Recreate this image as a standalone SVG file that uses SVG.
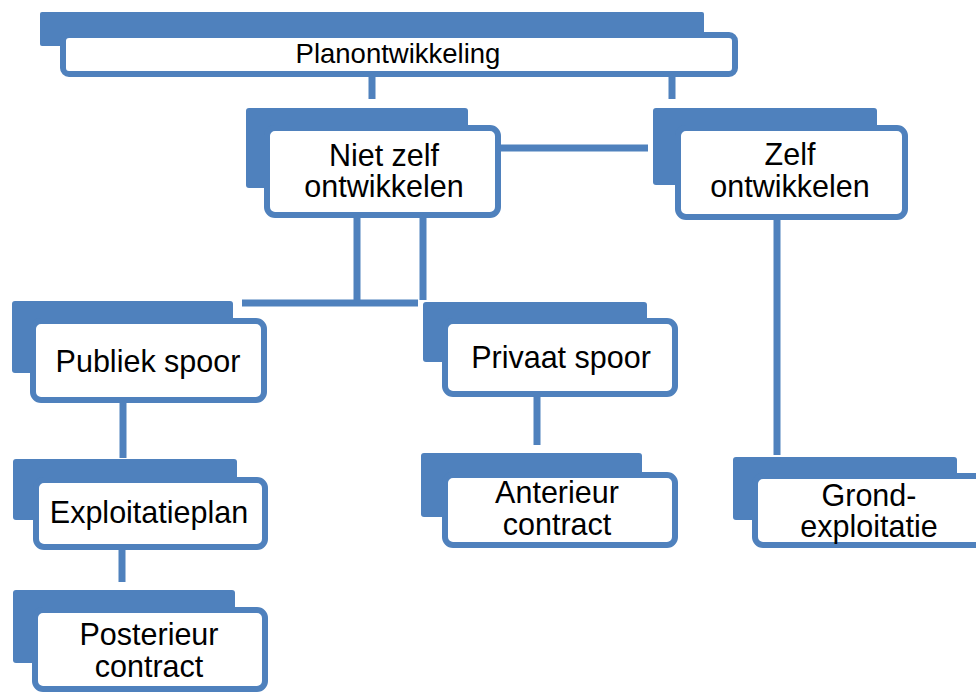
<svg xmlns="http://www.w3.org/2000/svg" width="976" height="695" viewBox="0 0 976 695">
<style>
.back{fill:#4F81BD}
.front{fill:#fff;stroke:#4F81BD;stroke-width:6}
.lbl{font-family:"Liberation Sans",Arial,sans-serif;font-size:30.5px;fill:#000;text-anchor:middle}
.top{font-size:27.5px}
.con{stroke:#4F81BD;stroke-width:7;fill:none}
</style>
<rect width="976" height="695" fill="#fff"/>
<g id="connectors">
<path class="con" d="M372 77V99M672 77V99M501 148H648M777 220V455M357 218V303M423 218V300M242 303H418M123 403V458M537 397V445M122 550V582"/>
</g>
<g id="n-planontwikkeling">
<rect class="back" x="40" y="12" width="664" height="34" rx="2"/>
<rect class="front" x="63" y="35" width="672" height="39" rx="6"/>
<text class="lbl top" x="398" y="63">Planontwikkeling</text>
</g>
<g id="n-niet-zelf">
<rect class="back" x="246" y="108" width="222" height="80" rx="3"/>
<rect class="front" x="267" y="128" width="231" height="87" rx="8"/>
<text class="lbl" x="384" y="166">Niet zelf</text>
<text class="lbl" x="384" y="197">ontwikkelen</text>
</g>
<g id="n-zelf">
<rect class="back" x="653" y="108" width="224" height="77" rx="3"/>
<rect class="front" x="678" y="128" width="227" height="89" rx="8"/>
<text class="lbl" x="790" y="165">Zelf</text>
<text class="lbl" x="790" y="197">ontwikkelen</text>
</g>
<g id="n-publiek">
<rect class="back" x="12" y="301" width="221" height="72" rx="3"/>
<rect class="front" x="33" y="321" width="231" height="79" rx="8"/>
<text class="lbl" x="148" y="372">Publiek spoor</text>
</g>
<g id="n-privaat">
<rect class="back" x="423" y="302" width="224" height="60" rx="3"/>
<rect class="front" x="445" y="321" width="230" height="73" rx="8"/>
<text class="lbl" x="561" y="368">Privaat spoor</text>
</g>
<g id="n-exploitatieplan">
<rect class="back" x="13" y="459" width="224" height="61" rx="3"/>
<rect class="front" x="36" y="480" width="229" height="67" rx="8"/>
<text class="lbl" x="149" y="523">Exploitatieplan</text>
</g>
<g id="n-posterieur">
<rect class="back" x="13" y="590" width="222" height="73" rx="3"/>
<rect class="front" x="35" y="610" width="230" height="79" rx="8"/>
<text class="lbl" x="149" y="645">Posterieur</text>
<text class="lbl" x="149" y="677">contract</text>
</g>
<g id="n-anterieur">
<rect class="back" x="421" y="453" width="221" height="64" rx="3"/>
<rect class="front" x="445" y="475" width="230" height="70" rx="8"/>
<text class="lbl" x="557" y="503">Anterieur</text>
<text class="lbl" x="557" y="535">contract</text>
</g>
<g id="n-grondexploitatie">
<rect class="back" x="733" y="457" width="224" height="63" rx="3"/>
<rect class="front" x="755" y="476" width="240" height="69" rx="8"/>
<text class="lbl" x="869" y="506">Grond-</text>
<text class="lbl" x="869" y="537">exploitatie</text>
</g>
</svg>
